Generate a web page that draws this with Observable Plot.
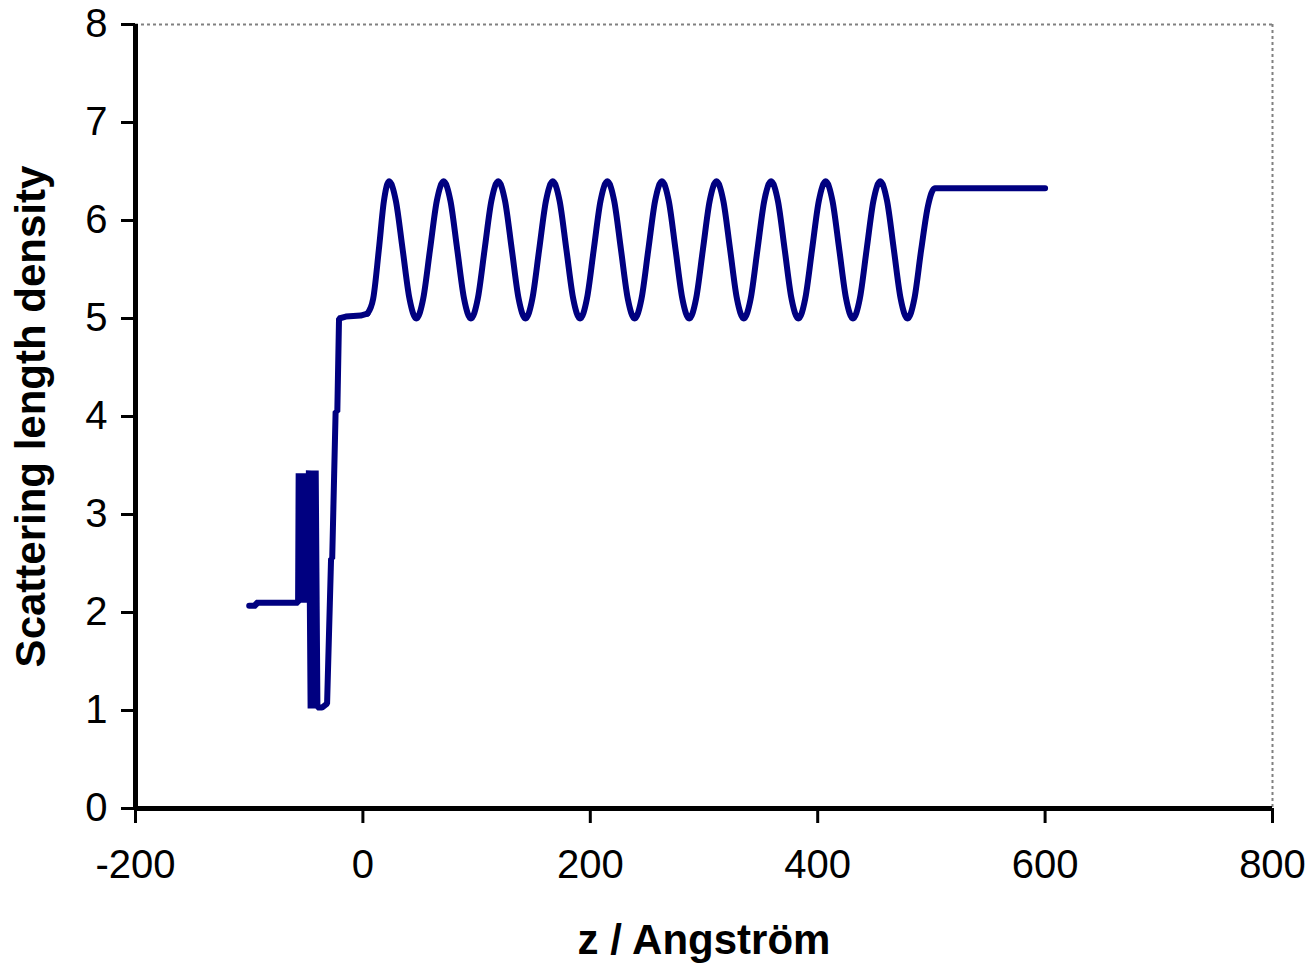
<!DOCTYPE html>
<html><head><meta charset="utf-8">
<script src="https://cdn.jsdelivr.net/npm/d3@7"></script>
<script src="https://cdn.jsdelivr.net/npm/@observablehq/plot@0.6"></script>
<style>body{margin:0;background:#fff} svg{display:block}</style>
</head><body><div id="chart"></div>
<script>
// Interface region (substrate, spikes, buffer layers)
const zInterface = [-100, -94, -94, -57, -56.5, -55, -53.5, -52, -50.5, -49, -47.5, -46, -44.5, -43, -41.5, -40, -36, -31.5, -28, -27, -24, -22.5, -21, -15, -2, 4];
const sldInterface = [2.07, 2.07, 2.1, 2.1, 3.42, 2.1, 3.42, 2.1, 3.42, 2.1, 3.45, 1.02, 3.45, 1.02, 3.45, 1.03, 1.03, 1.07, 2.55, 2.55, 4.05, 4.05, 5.0, 5.02, 5.03, 5.05];
// Multilayer region
const zLayers = [9, 14, 18.5,
  23,29,35,41,47,53,59,65,71,77,83,89,95,101,107,113,119,125,131,137,143,149,155,161,167,173,179,185,191,197,203,209,215,221,227,233,239,245,251,257,263,269,275,281,287,293,299,305,311,317,323,329,335,341,347,353,359,365,371,377,383,389,395,401,407,413,419,425,431,437,443,449,455,461,467,473,479,
  485, 491, 497, 503, 600];
const sldLayers = [5.2, 5.7, 6.2,
  6.4,6.2,5.7,5.2,5.0,5.2,5.7,6.2,
  6.4,6.2,5.7,5.2,5.0,5.2,5.7,6.2,
  6.4,6.2,5.7,5.2,5.0,5.2,5.7,6.2,
  6.4,6.2,5.7,5.2,5.0,5.2,5.7,6.2,
  6.4,6.2,5.7,5.2,5.0,5.2,5.7,6.2,
  6.4,6.2,5.7,5.2,5.0,5.2,5.7,6.2,
  6.4,6.2,5.7,5.2,5.0,5.2,5.7,6.2,
  6.4,6.2,5.7,5.2,5.0,5.2,5.7,6.2,
  6.4,6.2,5.7,5.2,5.0,5.2,5.7,6.2,
  6.4,6.2,5.7,5.2,5.0,
  5.2, 5.7, 6.15, 6.33, 6.33];
const xTicks = [-200, 0, 200, 400, 600, 800];
const yTicks = [0, 1, 2, 3, 4, 5, 6, 7, 8];
const xTitle = "z / Angström";
const yTitle = "Scattering length density";

const zAll = zInterface.concat(zLayers);
const sldAll = sldInterface.concat(sldLayers);
const rows = zAll.map((v, i) => ({z: v, sld: sldAll[i]}));

const chart = Plot.plot({
  width: 1312, height: 966,
  marginLeft: 135, marginRight: 40, marginTop: 24, marginBottom: 158,
  x: {domain: [-200, 800]},
  y: {domain: [0, 8]},
  style: {fontFamily: "'Liberation Sans', Arial, sans-serif", background: "#fff", color: "#000"},
  marks: [
    Plot.ruleY([8], {stroke: "#808080", strokeWidth: 2, strokeDasharray: "3,3"}),
    Plot.ruleX([800], {stroke: "#808080", strokeWidth: 2, strokeDasharray: "3,3"}),
    Plot.axisY({ticks: yTicks, tickFormat: d => String(d), tickSize: 14, tickPadding: 14, fontSize: 40, strokeWidth: 3, label: null}),
    Plot.axisX({ticks: xTicks, tickFormat: d => String(d), tickSize: 15, tickPadding: 26, fontSize: 40, strokeWidth: 3, label: null}),
    Plot.ruleX([-200], {stroke: "#000", strokeWidth: 5}),
    Plot.ruleY([0], {stroke: "#000", strokeWidth: 5}),
    Plot.line(rows, {filter: d => d.z <= 4, x: "z", y: "sld", stroke: "#000080", strokeWidth: 6, strokeLinejoin: "miter"}),
    Plot.line(rows, {filter: d => d.z >= 4, x: "z", y: "sld", stroke: "#000080", strokeWidth: 6, curve: "monotone-x"}),
    Plot.text([yTitle], {text: d => d, frameAnchor: "left", dx: -104, rotate: -90, textAnchor: "middle", fontSize: 42, fontWeight: "bold"}),
    Plot.text([xTitle], {text: d => d, frameAnchor: "bottom", dy: 145, fontSize: 42, fontWeight: "bold"})
  ]
});
document.getElementById("chart").appendChild(chart);
</script>
</body></html>
